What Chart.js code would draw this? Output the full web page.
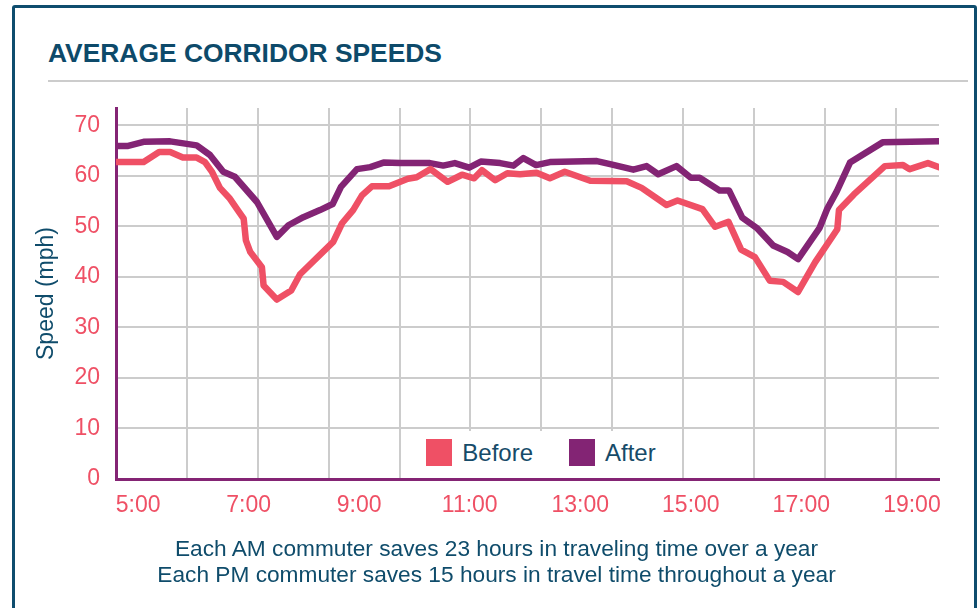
<!DOCTYPE html>
<html>
<head>
<meta charset="utf-8">
<script src="https://cdn.jsdelivr.net/npm/chart.js@4.4.0/dist/chart.umd.min.js"></script>
<style>
  html, body { margin: 0; padding: 0; background: #fff; }
  body { width: 978px; height: 608px; position: relative; overflow: hidden; font-family: "Liberation Sans", Arial, sans-serif; }
  #frame { position: absolute; left: 12px; top: 5px; width: 965px; height: 700px; box-sizing: border-box; border: 3px solid #0e4d6e; border-radius: 3px; }
  #title { position: absolute; left: 48px; top: 40px; margin: 0; font-size: 26.4px; line-height: 26px; font-weight: bold; color: #0d4a6a; }
  #rule { position: absolute; left: 48px; top: 80px; width: 920px; height: 2px; background: #cccccc; }
  #chart { position: absolute; left: 0; top: 0; }
  #legend { position: absolute; left: 414px; top: 431px; width: 254px; height: 47px; background: #fff; display: flex; align-items: center; justify-content: center; }
  .item { display: flex; align-items: center; font-size: 24px; color: #164b69; position: relative; top: -2px; }
  .item + .item { margin-left: 36px; }
  .swatch { width: 26px; height: 27px; margin-right: 10px; }
  #caption { position: absolute; left: 0; top: 535px; width: 993px; text-align: center; font-size: 22.7px; line-height: 26px; color: #0f4c6b; }
</style>
</head>
<body>
<div id="frame"></div>
<h2 id="title">AVERAGE CORRIDOR SPEEDS</h2>
<div id="rule"></div>
<canvas id="chart" width="978" height="608"></canvas>
<div id="legend"></div>
<div id="caption">Each AM commuter saves 23 hours in traveling time over a year<br>Each PM commuter saves 15 hours in travel time throughout a year</div>
<script>
// time of day in hours, speeds in mph
const beforeTimes = [4.60, 5.10, 5.38, 5.58, 5.81, 6.06, 6.21, 6.34, 6.48, 6.65,
  6.79, 6.91, 6.95, 7.03, 7.24, 7.27, 7.51, 7.77, 7.93, 8.53,
  8.69, 8.89, 9.05, 9.23, 9.54, 9.88, 10.04, 10.29, 10.60, 10.86,
  11.08, 11.22, 11.46, 11.68, 11.91, 12.21, 12.45, 12.72, 13.18, 13.84,
  14.11, 14.56, 14.76, 15.21, 15.44, 15.68, 15.91, 16.16, 16.43, 16.67,
  16.94, 17.25, 17.65, 17.68, 17.95, 18.51, 18.84, 18.96, 19.29, 19.49];
const beforeSpeeds = [62.7, 62.7, 64.7, 64.7, 63.6, 63.6, 62.7, 60.7, 57.6, 55.6,
  53.4, 51.5, 47.2, 44.9, 41.9, 38.3, 35.5, 37.3, 40.5, 46.9,
  50.6, 53.2, 56.1, 57.9, 57.9, 59.4, 59.7, 61.3, 58.8, 60.2,
  59.5, 61.1, 59.1, 60.5, 60.3, 60.6, 59.5, 60.8, 59.0, 58.9,
  57.6, 54.2, 55.1, 53.4, 49.9, 50.9, 45.4, 43.9, 39.2, 39.0,
  37.0, 42.9, 49.4, 53.2, 56.3, 61.9, 62.1, 61.3, 62.5, 61.7];

const afterTimes = [4.60, 4.82, 5.10, 5.58, 6.06, 6.30, 6.54, 6.75, 7.15, 7.51,
  7.72, 7.99, 8.29, 8.52, 8.67, 8.96, 9.20, 9.44, 9.74, 10.28,
  10.52, 10.73, 10.99, 11.20, 11.55, 11.79, 11.97, 12.20, 12.45, 13.30,
  13.54, 13.96, 14.20, 14.41, 14.74, 15.00, 15.16, 15.52, 15.69, 15.93,
  16.19, 16.49, 16.75, 16.94, 17.33, 17.47, 17.64, 17.88, 18.47, 19.49];
const afterSpeeds = [65.9, 65.9, 66.7, 66.8, 66.0, 64.1, 60.8, 59.8, 54.8, 47.9,
  50.2, 51.8, 53.2, 54.4, 57.8, 61.3, 61.7, 62.6, 62.5, 62.5,
  62.0, 62.5, 61.6, 62.8, 62.5, 62.0, 63.5, 62.1, 62.7, 62.9,
  62.3, 61.2, 61.9, 60.3, 61.9, 59.6, 59.6, 57.1, 57.1, 51.7,
  49.7, 46.2, 44.9, 43.5, 49.7, 53.5, 56.9, 62.6, 66.6, 66.8];

const hourTicks = [5, 7, 9, 11, 13, 15, 17, 19];

const BEFORE_COLOR = '#ef5065';
const AFTER_COLOR = '#832474';
const AXIS_COLOR = '#842474';
const TICK_COLOR = '#ef5065';
const GRID_COLOR = '#cccccc';
const FONT = '"Liberation Sans", Arial, sans-serif';

function toPoints(times, speeds) {
  return times.map((t, i) => ({ x: t, y: speeds[i] }));
}

const ctx = document.getElementById('chart').getContext('2d');
const chart = new Chart(ctx, {
  type: 'line',
  data: {
    datasets: [
      {
        label: 'Before',
        data: toPoints(beforeTimes, beforeSpeeds),
        borderColor: BEFORE_COLOR,
        backgroundColor: BEFORE_COLOR,
      },
      {
        label: 'After',
        data: toPoints(afterTimes, afterSpeeds),
        borderColor: AFTER_COLOR,
        backgroundColor: AFTER_COLOR,
      },
    ],
  },
  options: {
    responsive: false,
    animation: false,
    layout: { padding: { top: 108, left: 30, right: 39, bottom: 89 } },
    elements: {
      line: { borderWidth: 6.5, tension: 0, borderJoinStyle: 'round', borderCapStyle: 'round' },
      point: { radius: 0 },
    },
    plugins: {
      legend: { display: false },
      tooltip: { enabled: false },
    },
    scales: {
      x: {
        type: 'linear',
        position: 'bottom',
        min: 4.6,
        max: 19.49,
        grid: { display: false },
        border: { color: AXIS_COLOR, width: 3 },
        afterBuildTicks: scale => { scale.ticks = hourTicks.map(v => ({ value: v })); },
        afterFit: scale => { scale.height = 40; },
        ticks: {
          callback: v => v + ':00',
          color: TICK_COLOR,
          font: { family: FONT, size: 23 },
          padding: 5,
          maxRotation: 0,
          autoSkip: false,
        },
      },
      // the vertical grid of the original does not follow the hour labels
      gridX: {
        type: 'linear',
        axis: 'x',
        position: 'top',
        min: 0,
        max: 11.61,
        ticks: { display: false, stepSize: 1, includeBounds: false },
        grid: { color: GRID_COLOR, lineWidth: 2, drawTicks: false, z: -1 },
        border: { display: false },
      },
      y: {
        min: 0,
        max: 73.4,
        ticks: {
          stepSize: 10,
          includeBounds: false,
          color: TICK_COLOR,
          font: { family: FONT, size: 23 },
          padding: 16,
        },
        grid: { color: GRID_COLOR, lineWidth: 2, drawTicks: false, z: -1 },
        border: { color: AXIS_COLOR, width: 3 },
        title: {
          display: true,
          text: 'Speed (mph)',
          color: '#0f4c6b',
          font: { family: FONT, size: 23 },
          padding: { top: 3, bottom: 0 },
        },
        afterFit: scale => { scale.width = 86; },
      },
    },
  },
});

// html legend with a white backing, like the original
const legendEl = document.getElementById('legend');
chart.data.datasets.forEach(ds => {
  const item = document.createElement('div');
  item.className = 'item';
  const swatch = document.createElement('span');
  swatch.className = 'swatch';
  swatch.style.background = ds.borderColor;
  item.appendChild(swatch);
  item.appendChild(document.createTextNode(ds.label));
  legendEl.appendChild(item);
});
</script>
</body>
</html>
